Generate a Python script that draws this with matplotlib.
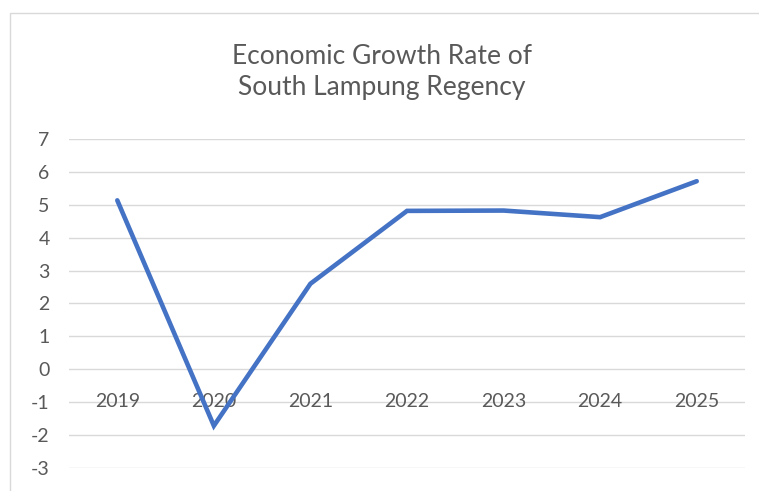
import matplotlib
matplotlib.use("Agg")
import matplotlib.pyplot as plt
from matplotlib.patches import Rectangle

years = ["2019", "2020", "2021", "2022", "2023", "2024", "2025"]
growth = [5.13, -1.71, 2.6, 4.81, 4.82, 4.62, 5.71]
yticks = list(range(-3, 8))

plt.rcParams['font.family'] = ['Lato', 'DejaVu Sans']
W, H = 759, 491
fig = plt.figure(figsize=(W/100, H/100), dpi=100)
ax = fig.add_axes([69/W, (H-468.3)/H, (745-69)/W, (468.3-138.7)/H])

x = list(range(len(years)))
ax.plot(x, growth, color='#4472C4', lw=3.3, solid_capstyle='round', solid_joinstyle='miter', zorder=3)
ax.set_xlim(-0.5, len(years)-0.5)
ax.set_ylim(-3, 7)
ax.set_yticks(yticks)
ax.set_yticklabels([str(t) for t in yticks])
for t in yticks:
    ax.axhline(t, color='#d9d9d9', lw=1.0, zorder=1)
for s in ax.spines.values():
    s.set_visible(False)
ax.tick_params(axis='y', length=0, pad=14, labelsize=14, labelcolor='#595959')
ax.set_xticks([])
for xi, lab in zip(x, years):
    ax.text(xi, -0.97, lab, ha='center', va='center', fontsize=14, color='#595959',
            transform=ax.transData, zorder=2)
for lab in ax.get_yticklabels():
    lab.set_ha('right')

fig.text(0.5 + 2/W, (H-72)/H, "Economic Growth Rate of\nSouth Lampung Regency", ha='center', va='center',
         fontsize=19, color='#595959', linespacing=1.3)

fig.patches.append(Rectangle((10/W, -0.1), 1.2, (H-13)/H + 0.1, transform=fig.transFigure,
                             fill=False, edgecolor='#d9d9d9', lw=1.0))
fig.savefig("out.png", dpi=100, facecolor='white')
